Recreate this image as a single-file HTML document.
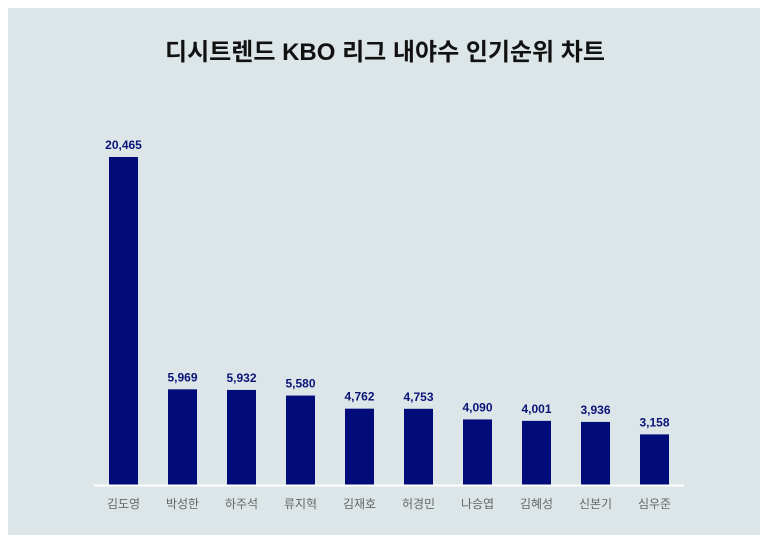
<!DOCTYPE html>
<html><head><meta charset="utf-8"><style>
body{margin:0;width:768px;height:543px;background:#fff;overflow:hidden}
svg{display:block}
</style></head><body>
<svg width="768" height="543" xmlns="http://www.w3.org/2000/svg" font-family="Liberation Sans, Noto Sans CJK KR, sans-serif">
<rect x="8" y="8" width="752" height="527" fill="#dce5e7"/>
<text x="385" y="60" text-anchor="middle" font-size="24" font-weight="bold" fill="#111">디시트렌드 KBO 리그 내야수 인기순위 차트</text>
<g id="bars"></g>
<line x1="94" y1="485.5" x2="684" y2="485.5" stroke="#fff" stroke-width="2"/>
</svg>
<script>
const d=[["김도영",20465],["박성한",5969],["하주석",5932],["류지혁",5580],["김재호",4762],["허경민",4753],["나승엽",4090],["김혜성",4001],["신본기",3936],["심우준",3158]];
let s='';const base=485,k=328/20465;
d.forEach((e,i)=>{const cx=123.5+i*59,h=e[1]*k,t=base-h;
s+=`<rect x="${cx-14.5}" y="${t}" width="29" height="${h}" fill="#020b7a"/>`;
s+=`<text x="${cx}" y="${t-8}" text-anchor="middle" font-size="12" font-weight="bold" fill="#0a1478">${e[1].toLocaleString('en-US')}</text>`;
s+=`<text x="${cx}" y="508" text-anchor="middle" font-size="12" fill="#666">${e[0]}</text>`;});
document.getElementById('bars').innerHTML=s;
</script>
</body></html>
